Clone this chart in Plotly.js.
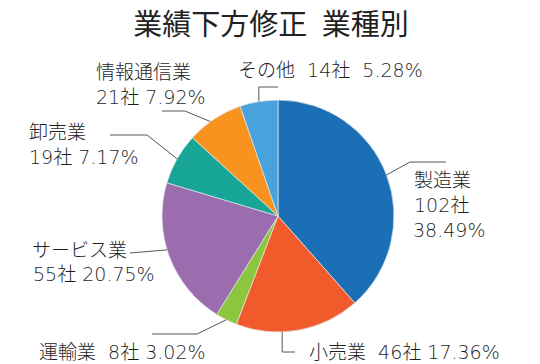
<!DOCTYPE html>
<html><head><meta charset="utf-8">
<script src="https://cdn.plot.ly/plotly-3.0.1.min.js"></script>
<style>html,body{margin:0;padding:0;background:#fff}#chart{width:540px;height:364px}</style>
</head><body><div id="chart"></div>
<script>
// ---- data ----
const chartTitle = "業績下方修正\u2002業種別";
const categories = ["製造業", "小売業", "運輸業", "サービス業", "卸売業", "情報通信業", "その他"];
const companies = [102, 46, 8, 55, 19, 21, 14];
const colors = ["#1a6fb7", "#f15a2a", "#8cc63f", "#9b6cae", "#16a596", "#f7931e", "#48a3dc"];

// ---- layout (pixels) ----
const W = 540, H = 364, CX = 278, CY = 216, R = 116;
const NB = "\u00a0";
const labelLayout = [
  {frac: 0.5, lines: [["{n}", 412, 180], ["{c}社", 412, 205], ["{p}%", 411, 230]], path: [[410, 162], [446, 162]]},
  {frac: 0.63, lines: [["{n}" + NB + " {c}社 {p}%", 307, 352]], path: [["a", 352], [295, 352]]},
  {frac: 0.5, lines: [["{n}" + NB + " {c}社 {p}%", 37, 352]], path: [[197, 334], [152, 334]]},
  {frac: 0.55, lines: [["{n}", 30, 250], ["{c}社 {p}%", 31, 274]], path: [[130, 253]]},
  {frac: 0.5, lines: [["{n}", 27, 132], ["{c}社 {p}%", 27, 157]], path: [[147, 135], [110, 135]]},
  {frac: 0.42, lines: [["{n}", 94, 72], ["{c}社 {p}%", 94, 97]], path: [[185, 111], [162, 111]]},
  {frac: 0.5, lines: [["{n}" + NB + " {c}社" + NB + " {p}%", 236, 70]], path: [["a", 87], [278, 87]]}
];

const total = companies.reduce((a, b) => a + b, 0);
const px = x => x / W, py = y => 1 - y / H;
const font = {family: "DejaVu Sans, Noto Sans CJK JP, sans-serif", size: 19, color: "#1e1e1e", weight: 200};

const annotations = [], shapes = [];
let cum = 0;
companies.forEach((v, i) => {
  const L = labelLayout[i];
  const theta = 2 * Math.PI * (cum + v * L.frac) / total;
  cum += v;
  const ax = CX + R * Math.sin(theta), ay = CY - R * Math.cos(theta);
  const pct = (v / total * 100).toFixed(2);
  L.lines.forEach(([tpl, x, y]) => {
    const txt = tpl.replace("{n}", categories[i]).replace("{c}", v).replace("{p}", pct);
    annotations.push({text: txt, x: px(x), y: py(y), xref: "paper", yref: "paper",
      xanchor: "left", yanchor: "middle", showarrow: false, font: font});
  });
  let prev = [ax, ay];
  L.path.forEach(([x, y]) => {
    const xx = x === "a" ? ax : x;
    shapes.push({type: "line", xref: "paper", yref: "paper",
      x0: px(prev[0]), y0: py(prev[1]), x1: px(xx), y1: py(y),
      line: {color: "#444", width: 0.9}});
    prev = [xx, y];
  });
});

const trace = {
  type: "pie", labels: categories, values: companies, sort: false,
  direction: "clockwise", rotation: 0, textinfo: "none", hoverinfo: "none",
  marker: {colors: colors, line: {color: "#e6e6e6", width: 0.7}},
  domain: {x: [(CX - R) / W, (CX + R) / W], y: [py(CY + R), py(CY - R)]},
  showlegend: false
};

const layout = {
  width: W, height: H, margin: {l: 0, r: 0, t: 0, b: 0},
  paper_bgcolor: "#fff", plot_bgcolor: "#fff",
  title: {text: chartTitle, x: 271 / W, xanchor: "center", xref: "paper",
    y: py(25), yanchor: "middle", yref: "container",
    font: {family: "Noto Sans CJK JP, sans-serif", size: 29, color: "#222"}},
  annotations: annotations, shapes: shapes, showlegend: false
};

Plotly.newPlot("chart", [trace], layout, {staticPlot: true, displayModeBar: false});
</script>
</body></html>
